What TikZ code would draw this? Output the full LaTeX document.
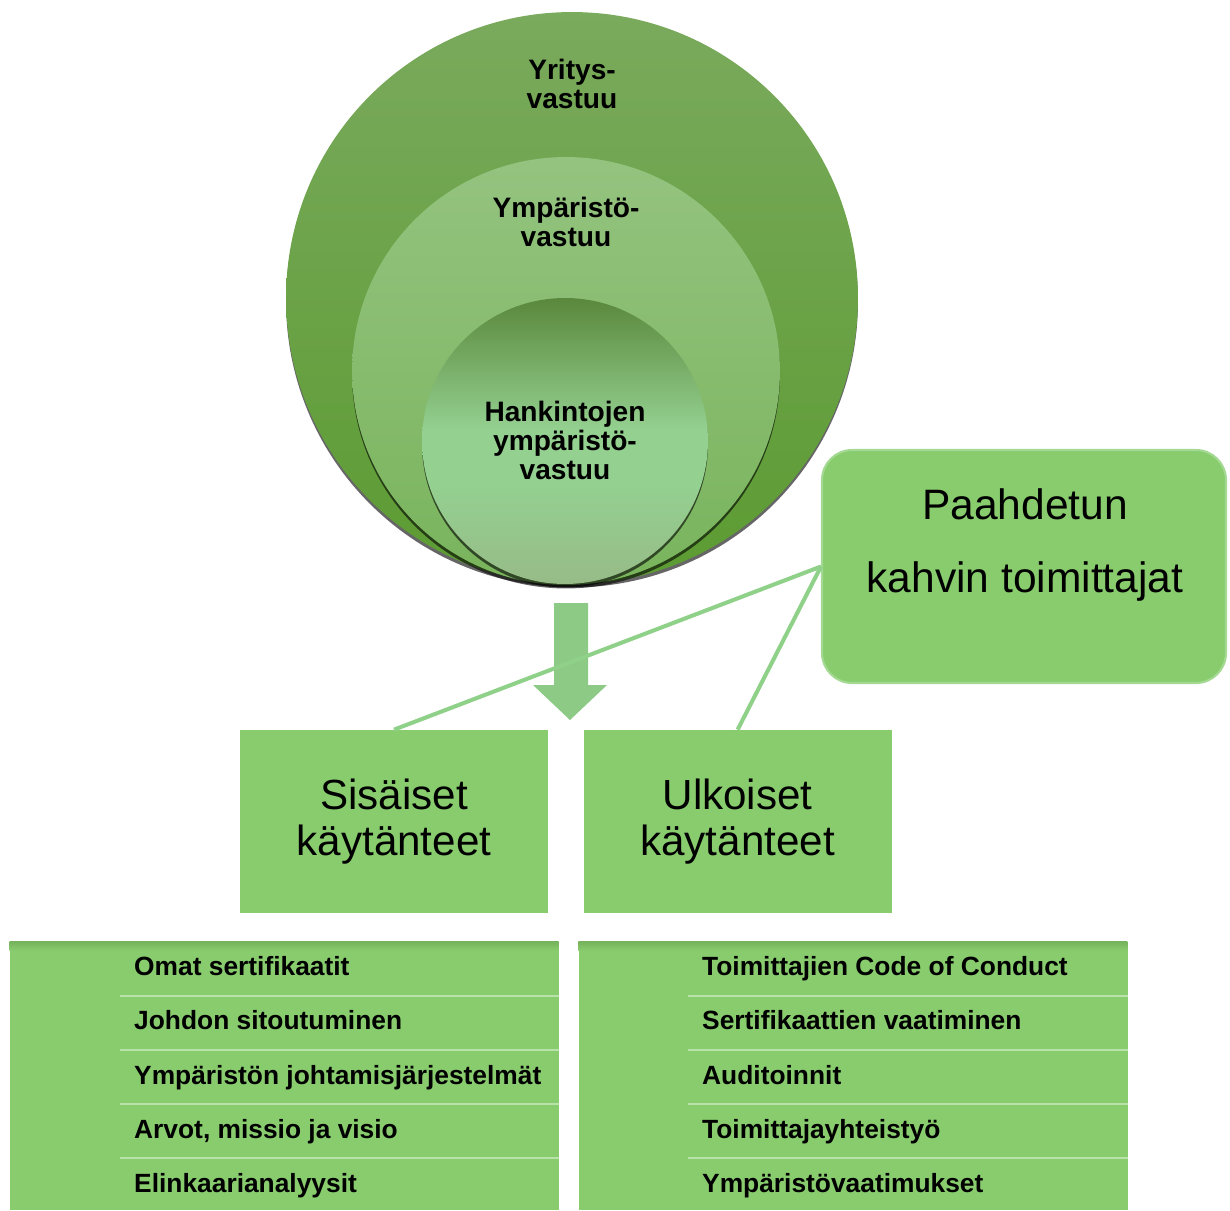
\documentclass[tikz,border=0pt]{standalone}
\usepackage{fontspec}
\setmainfont{Liberation Sans}
\usetikzlibrary{positioning,shadows}
\definecolor{leafgreen}{HTML}{88CC6E}
\definecolor{boxedge}{HTML}{A3D993}
\definecolor{linkgreen}{HTML}{8FD189}
\definecolor{arrowgreen}{HTML}{8CCA86}
\definecolor{sepgreen}{HTML}{B9E2AA}
\definecolor{listshade}{HTML}{76B35D}
\definecolor{corptop}{HTML}{7AAA5D}
\definecolor{corpbot}{HTML}{5C9B32}
\definecolor{envitop}{HTML}{94C37F}
\definecolor{envibot}{HTML}{79B45C}
\definecolor{proctop}{HTML}{5A883C}
\definecolor{procmid}{HTML}{94D090}
\definecolor{procbot}{HTML}{97BB87}
\pgfdeclareverticalshading{procshade}{100bp}{color(0bp)=(procbot); color(25bp)=(procbot); color(42bp)=(procmid); color(52bp)=(procmid); color(75bp)=(proctop); color(100bp)=(proctop)}
\begin{document}
\begin{tikzpicture}[x=0.02cm, y=-0.02cm, node distance=0.7cm]
        % Define styles
        \tikzstyle{ring} = [circle, inner sep=0pt, drop shadow={shadow xshift=0pt, shadow yshift=-0.07cm, fill=black, opacity=0.6}]
        \tikzstyle{ringtext} = [align=center, font=\fontsize{16pt}{16.5pt}\selectfont\bfseries]
        \tikzstyle{practice} = [rectangle, minimum width=6.16cm, minimum height=3.66cm, fill=leafgreen, align=center, font=\fontsize{24pt}{26pt}\selectfont]
        \tikzstyle{supplier} = [rectangle, rounded corners=0.6cm, minimum width=8.08cm, minimum height=4.66cm, draw=boxedge, line width=1.2pt, fill=leafgreen]
        \tikzstyle{listbox} = [rectangle, minimum width=10.98cm, minimum height=5.36cm, fill=leafgreen, inner sep=0pt]
        \tikzstyle{item} = [anchor=west, text height=11pt, text depth=3.5pt, font=\fontsize{15pt}{18pt}\selectfont\bfseries]
        \tikzstyle{sep} = [sepgreen, line width=0.9pt]
        \tikzstyle{link} = [linkgreen, line width=2.3pt]

        \useasboundingbox (0,0) rectangle (1230,1210);

        % Circles
        \node (corp) [ring, minimum size=11.44cm, top color=corptop, bottom color=corpbot] at (572,298) {};
        \node (envi) [ring, minimum size=8.56cm, top color=envitop, bottom color=envibot] at (566,371) {};
        \node (proc) [ring, minimum size=5.72cm, shading=procshade] at (565,441) {};
        \node (corptext) [ringtext] at (572,84) {Yritys-\\vastuu};
        \node (envitext) [ringtext] at (566,222) {Ympäristö-\\vastuu};
        \node (proctext) [ringtext] at (565,440) {Hankintojen\\ympäristö-\\vastuu};

        % Block arrow
        \fill [arrowgreen] (554,603) -- (588,603) -- (588,685) -- (607,685) -- (570,720) -- (533,685) -- (554,685) -- cycle;

        % Boxes
        \node (sis) [practice] at (394,821.5) {Sisäiset\\käytänteet};
        \node (ulk) [practice, right=0.7cm of sis] {Ulkoiset\\käytänteet};
        \node (pah) [supplier] at (1024,566.5) {};
        \node (pahtext) [align=center, font=\fontsize{24.2pt}{42pt}\selectfont] at (1025,545) {Paahdetun\\kahvin toimittajat};

        % Lines
        \draw [link] (pah.west) -- (sis.north);
        \draw [link] (pah.west) -- (ulk.north);

        % Lists
        \node (inlist) [listbox] at (284.5,1076) {};
        \node (outlist) [listbox, right=0.38cm of inlist] {};
        \shade [top color=listshade, bottom color=leafgreen] (inlist.north west) rectangle ++(549,9);
        \shade [top color=listshade, bottom color=leafgreen] (outlist.north west) rectangle ++(549,9);
        \draw [sep] (120,996) -- (inlist.east |- 0,996);
        \draw [sep] (120,1050) -- (inlist.east |- 0,1050);
        \draw [sep] (120,1104) -- (inlist.east |- 0,1104);
        \draw [sep] (120,1158) -- (inlist.east |- 0,1158);
        \draw [sep] (688,996) -- (outlist.east |- 0,996);
        \draw [sep] (688,1050) -- (outlist.east |- 0,1050);
        \draw [sep] (688,1104) -- (outlist.east |- 0,1104);
        \draw [sep] (688,1158) -- (outlist.east |- 0,1158);

        \node (in1) [item] at (128,969) {Omat sertifikaatit};
        \node (in2) [item] at (128,1023) {Johdon sitoutuminen};
        \node (in3) [item] at (128,1078) {Ympäristön johtamisjärjestelmät};
        \node (in4) [item] at (128,1132) {Arvot, missio ja visio};
        \node (in5) [item] at (128,1186) {Elinkaarianalyysit};
        \node (out1) [item] at (696,969) {Toimittajien Code of Conduct};
        \node (out2) [item] at (696,1023) {Sertifikaattien vaatiminen};
        \node (out3) [item] at (696,1078) {Auditoinnit};
        \node (out4) [item] at (696,1132) {Toimittajayhteistyö};
        \node (out5) [item] at (696,1186) {Ympäristövaatimukset};
    \end{tikzpicture}
\end{document}
